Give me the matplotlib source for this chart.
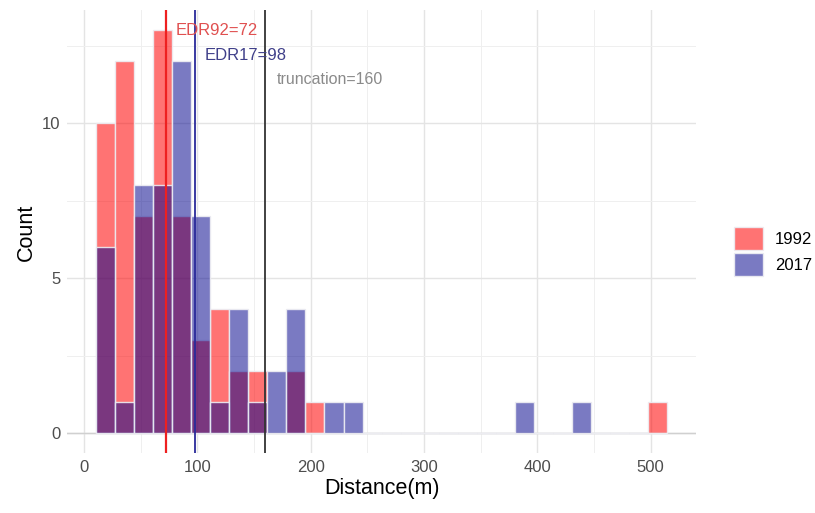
import numpy as np
import matplotlib
matplotlib.use("Agg")
import matplotlib.pyplot as plt
from matplotlib.patches import Patch

plt.rcParams['font.family'] = ['Liberation Sans', 'DejaVu Sans']

# Data: histogram counts per bin (30 bins)
bin_low = 10.5
bin_high = 514.7
n_bins = 30
counts_1992 = [10, 12, 7, 13, 7, 3, 4, 2, 2, 0, 2, 1, 0, 0, 0,
               0, 0, 0, 0, 0, 0, 0, 0, 0, 0, 0, 0, 0, 0, 1]
counts_2017 = [6, 1, 8, 8, 12, 7, 1, 4, 1, 2, 4, 0, 1, 1, 0,
               0, 0, 0, 0, 0, 0, 0, 1, 0, 0, 1, 0, 0, 0, 0]
series_labels = ["1992", "2017"]
edr92 = 72
edr17 = 98
truncation = 160
x_ticks = [0, 100, 200, 300, 400, 500]
y_ticks = [0, 5, 10]

edges = np.linspace(bin_low, bin_high, n_bins + 1)
widths = np.diff(edges)

fig = plt.figure(figsize=(8.15, 5.13), dpi=100)
ax = fig.add_axes([0.0827, 0.116, 0.771, 0.864])

red_fill = (1.0, 0.0, 0.0, 0.55)
blue_fill = (0.0, 0.0, 0.545, 0.52)
edge_col = (0.93, 0.93, 0.95, 0.9)

ax.bar(edges[:-1], counts_1992, width=widths, align='edge', color=red_fill,
       edgecolor=edge_col, linewidth=1.0, zorder=2)
ax.bar(edges[:-1], counts_2017, width=widths, align='edge', color=blue_fill,
       edgecolor=edge_col, linewidth=1.0, zorder=3)

ax.axhline(0, color='#d0d0d0', lw=1.0, zorder=1.5)

ax.axvline(edr92, color='#ee2020', lw=1.6, zorder=4)
ax.axvline(edr17, color='#2a2a9a', lw=1.3, zorder=4)
ax.axvline(truncation, color='#333333', lw=1.3, zorder=4)

ax.text(edr92 + 9, 13.0, f"EDR92={edr92}", color='#e05050', fontsize=12,
        ha='left', va='center', zorder=5)
ax.text(edr17 + 8, 12.2, f"EDR17={edr17}", color='#40408a', fontsize=12,
        ha='left', va='center', zorder=5)
ax.text(truncation + 10, 11.4, f"truncation={truncation}", color='#8a8a8a',
        fontsize=11.5, ha='left', va='center', zorder=5)

span = bin_high - bin_low
ax.set_xlim(bin_low - 0.05 * span, bin_high + 0.05 * span)
ax.set_ylim(-0.65, 13.65)
ax.set_xticks(x_ticks)
ax.set_yticks(y_ticks)
ax.set_xticks([50, 150, 250, 350, 450], minor=True)
ax.set_yticks([2.5, 7.5, 12.5], minor=True)
ax.grid(True, which='major', color='#e4e4e4', lw=1.0, zorder=0)
ax.grid(True, which='minor', color='#efefef', lw=0.7, zorder=0)
ax.set_axisbelow(True)
for s in ax.spines.values():
    s.set_visible(False)
ax.tick_params(which='both', length=0, labelsize=12, labelcolor='#4d4d4d', pad=5)
ax.set_xlabel("Distance(m)", fontsize=15.5, labelpad=2)
ax.set_ylabel("Count", fontsize=15.5, labelpad=4)

handles = [Patch(facecolor=red_fill, edgecolor=edge_col, label=series_labels[0]),
           Patch(facecolor=blue_fill, edgecolor=edge_col, label=series_labels[1])]
fig.legend(handles=handles, loc='center left', bbox_to_anchor=(0.882, 0.51),
           frameon=False, fontsize=12, handlelength=1.75, handleheight=1.75,
           labelspacing=0.2, handletextpad=0.7)

fig.savefig("out.png", dpi=100)
